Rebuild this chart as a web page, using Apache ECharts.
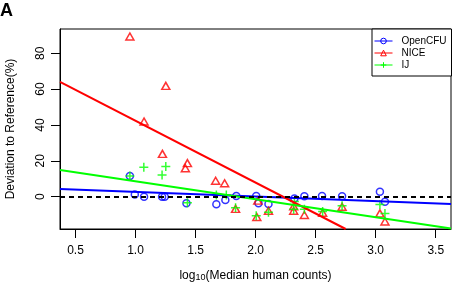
<!DOCTYPE html>
<html>
<head>
<meta charset="utf-8">
<script src="https://cdn.jsdelivr.net/npm/echarts@6.0.0/dist/echarts.min.js"></script>
<style>
html,body{margin:0;padding:0;background:#fff;}
#chart{width:453px;height:286px;}
</style>
</head>
<body>
<div id="chart"></div>
<script>
// ---- data ----
const openCFU_x = [0.953, 0.994, 1.071, 1.221, 1.243, 1.424, 1.673, 1.748, 1.839, 2.005, 2.024, 2.107, 2.323, 2.406, 2.553, 2.720, 3.035, 3.077];
const openCFU_y = [11.6, 1.3, 0.0, 0.0, 0.0, -3.7, -4.2, -1.8, 0.4, 0.4, -3.7, -4.0, -1.0, 0.2, 0.4, 0.2, 2.8, -2.8];

const nice_x = [0.953, 1.071, 1.224, 1.252, 1.415, 1.432, 1.667, 1.742, 1.833, 2.010, 2.018, 2.107, 2.317, 2.317, 2.406, 2.558, 2.720, 3.035, 3.077];
const nice_y = [89.3, 41.9, 23.9, 61.8, 15.9, 18.7, 8.9, 7.5, -6.8, -11.3, -2.2, -7.8, -5.4, -7.8, -10.2, -8.9, -5.6, -9.3, -13.8];

const ij_x = [0.953, 1.069, 1.221, 1.252, 1.432, 1.673, 1.756, 1.833, 2.005, 2.107, 2.323, 2.317, 2.406, 2.558, 2.720, 3.035, 3.077];
const ij_y = [11.6, 16.4, 12.1, 16.8, -3.4, 0.9, 1.0, -6.2, -10.6, -8.6, -2.6, -7.0, -7.0, -8.2, -5.0, -4.3, -9.3];

// fitted regression lines (endpoints)
const fitOpenCFU = [[0.371, 4.3], [3.627, -4.1]];
const fitNICE = [[0.371, 64.0], [2.75, -18.0]];
const fitIJ = [[0.371, 14.9], [3.627, -17.7]];

const seriesNames = ['OpenCFU', 'NICE', 'IJ'];
const xTicks = [0.5, 1.0, 1.5, 2.0, 2.5, 3.0, 3.5];
const yTicks = [0, 20, 40, 60, 80];
const xRange = [0.371, 3.627];
const yRange = [-18, 93.5];

// ---- chart ----
const zip = (xs, ys) => xs.map((x, i) => [x, ys[i]]);
const FONT = '"Liberation Sans", Arial, Helvetica, sans-serif';
const BLUE = '#0000ff', RED = '#ff0000', GREEN = '#00ff00';
const PLUS = 'path://M0,5 L10,5 M5,0 L5,10';

const chart = echarts.init(document.getElementById('chart'), null, {renderer: 'canvas'});

function fitSeries(name, data, color, symbol) {
  return {
    type: 'line', name: name, data: data, z: 4,
    symbol: symbol, showSymbol: false, clip: true, silent: true,
    lineStyle: {color: color, width: 2},
    itemStyle: {color: color},
    animation: false
  };
}
function pointSeries(name, data, color, symbol, size, bw) {
  return {
    type: 'scatter', name: name, data: data, z: 3,
    symbol: symbol, symbolSize: size, silent: true,
    itemStyle: {color: 'transparent', borderColor: color, borderWidth: bw},
    animation: false
  };
}

const option = {
  animation: false,
  textStyle: {fontFamily: FONT},
  grid: {left: 60, right: 2, top: 29, bottom: 57, show: true, borderColor: '#000', borderWidth: 1,
         containLabel: false, outerBoundsMode: 'none'},
  xAxis: {
    type: 'value', min: xRange[0], max: xRange[1],
    name: '{a|log}{s|10}{a|(Median human counts)}',
    nameLocation: 'middle', nameGap: 41,
    nameTextStyle: {
      color: '#000', fontFamily: FONT,
      rich: {
        a: {fontSize: 12, fontFamily: FONT, color: '#000', lineHeight: 12, verticalAlign: 'top'},
        s: {fontSize: 9, fontFamily: FONT, color: '#000', lineHeight: 9, padding: [7, 0, 0, 0], verticalAlign: 'bottom'}
      }
    },
    axisLine: {show: true, onZero: false, lineStyle: {color: '#000', width: 1}},
    axisTick: {show: true, length: 9, inside: false, customValues: xTicks, lineStyle: {color: '#000', width: 1}},
    axisLabel: {show: true, customValues: xTicks, margin: 16, color: '#000', fontSize: 12, fontFamily: FONT,
                formatter: v => Number(v).toFixed(1)},
    splitLine: {show: false}
  },
  yAxis: {
    type: 'value', min: yRange[0], max: yRange[1],
    name: 'Deviation to Reference(%)', nameLocation: 'middle', nameGap: 43, nameRotate: 90,
    nameTextStyle: {color: '#000', fontSize: 12, fontFamily: FONT},
    axisLine: {show: true, onZero: false, lineStyle: {color: '#000', width: 1}},
    axisTick: {show: true, length: 9, inside: false, customValues: yTicks, lineStyle: {color: '#000', width: 1}},
    axisLabel: {show: true, customValues: yTicks, rotate: 90, margin: 13, color: '#000', fontSize: 12, fontFamily: FONT},
    splitLine: {show: false}
  },
  legend: {
    orient: 'vertical', left: 372, top: 29,
    padding: [6, 5, 5, 2],
    itemWidth: 18, itemHeight: 7, itemGap: 0,
    backgroundColor: '#fff', borderColor: '#000', borderWidth: 1, borderRadius: 0,
    selectedMode: false,
    textStyle: {color: '#000', fontSize: 10, fontFamily: FONT, lineHeight: 12, padding: [0, 0, 0, 4]},
    data: [
      {name: seriesNames[0], itemStyle: {color: 'transparent', borderColor: BLUE, borderWidth: 1}, lineStyle: {color: BLUE, width: 1}},
      {name: seriesNames[1], itemStyle: {color: 'transparent', borderColor: RED, borderWidth: 1}, lineStyle: {color: RED, width: 1}},
      {name: seriesNames[2], itemStyle: {color: 'transparent', borderColor: GREEN, borderWidth: 1}, lineStyle: {color: GREEN, width: 1}}
    ]
  },
  graphic: [
    {type: 'text', left: 0, top: 2, z: 10,
     style: {text: 'A', fontSize: 18, fontWeight: 'bold', fontFamily: FONT, fill: '#000'}}
  ],
  series: [
    fitSeries(seriesNames[0], fitOpenCFU, BLUE, 'circle'),
    fitSeries(seriesNames[1], fitNICE, RED, 'triangle'),
    fitSeries(seriesNames[2], fitIJ, GREEN, PLUS),
    pointSeries(seriesNames[0], zip(openCFU_x, openCFU_y), BLUE, 'circle', 7, 1.5),
    pointSeries(seriesNames[1], zip(nice_x, nice_y), RED, 'triangle', [8, 7], 1.5),
    pointSeries(seriesNames[2], zip(ij_x, ij_y), GREEN, PLUS, 9, 1.5),
    {
      type: 'line', name: 'zero', data: [], silent: true, z: 2,
      markLine: {
        silent: true, symbol: ['none', 'none'], label: {show: false}, animation: false,
        lineStyle: {color: '#000', width: 2, type: [5, 4]},
        data: [{yAxis: 0}]
      }
    }
  ]
};
chart.setOption(option);
</script>
</body>
</html>
